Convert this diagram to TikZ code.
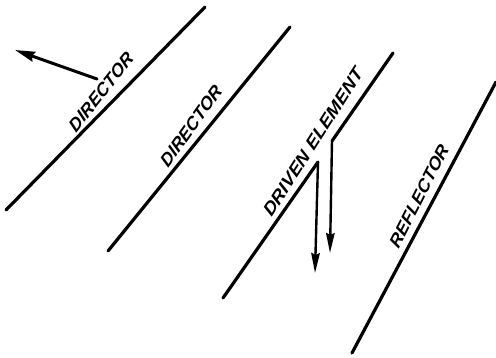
\documentclass[tikz,border=0pt]{standalone}
\usepackage{fontspec}
\setmainfont{Liberation Sans}
\usetikzlibrary{arrows.meta}

\begin{document}
\begin{tikzpicture}[x=1pt, y=-1pt,
    elementLine/.style={line width=3.2pt, line cap=round},
    feedLine/.style={line width=2.4pt, -{Stealth[length=20pt, width=8.5pt, inset=2pt]}},
    beamLine/.style={line width=3pt, line cap=round, -{Stealth[length=20pt, width=10pt, inset=2pt]}},
    elementLabel/.style={font=\fontsize{19}{19}\selectfont\bfseries\itshape, inner sep=0pt, xscale=0.88, transform shape}]
    \definecolor{inkColour}{HTML}{000000}

    \useasboundingbox (0,0) rectangle (496,357);

    % Define the ends of the elements
    \coordinate (directorOneLow) at (6,210);
    \coordinate (directorOneHigh) at (205,7);
    \coordinate (directorTwoLow) at (108,251);
    \coordinate (directorTwoHigh) at (290,27);
    \coordinate (drivenLow) at (223,298);
    \coordinate (drivenGapLow) at (318,162);
    \coordinate (drivenGapHigh) at (332,141);
    \coordinate (drivenHigh) at (393,53);
    \coordinate (reflectorLow) at (352,353);
    \coordinate (reflectorHigh) at (496,82);

    % Define the ends of the arrows
    \coordinate (beamStart) at (97,79);
    \coordinate (beamEnd) at (15,50);
    \coordinate (feedOneEnd) at (315,273);
    \coordinate (feedTwoEnd) at (330,253);

    % Draw the elements
    \draw[elementLine, inkColour] (directorOneLow) -- (directorOneHigh);
    \draw[elementLine, inkColour] (directorTwoLow) -- (directorTwoHigh);
    \draw[elementLine, inkColour] (drivenLow) -- (drivenGapLow);
    \draw[elementLine, inkColour] (drivenGapHigh) -- (drivenHigh);
    \draw[elementLine, inkColour] (reflectorLow) -- (reflectorHigh);

    % Draw the arrows
    \draw[beamLine, inkColour] (beamStart) -- (beamEnd);
    \draw[feedLine, inkColour] (drivenGapLow) -- (feedOneEnd);
    \draw[feedLine, inkColour] (drivenGapHigh) -- (feedTwoEnd);

    % Label the elements
    \node[elementLabel, rotate=48] (directorOneLabel) at (101,92) {DIRECTOR};
    \node[elementLabel, rotate=51] (directorTwoLabel) at (191,126) {DIRECTOR};
    \node[elementLabel, rotate=54, xscale=1.06] (drivenLabel) at (313,142) {DRIVEN ELEMENT};
    \node[elementLabel, rotate=60] (reflectorLabel) at (419,196) {REFLECTOR};

\end{tikzpicture}
\end{document}
